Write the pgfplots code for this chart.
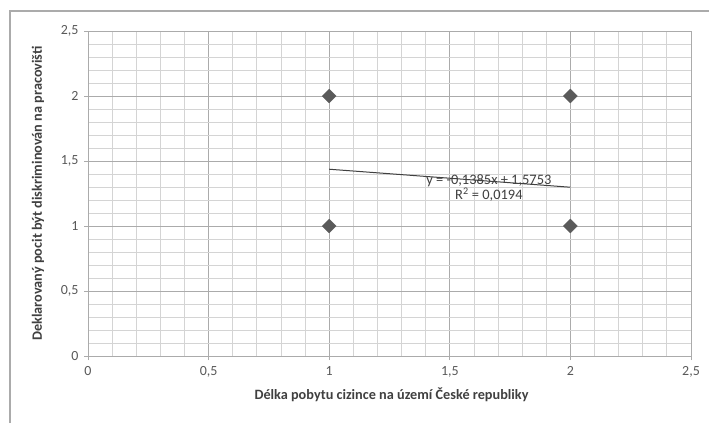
\documentclass[border=0pt]{standalone}
\usepackage{pgfplots}
\pgfplotsset{compat=1.18}
\usepackage{fontspec}
\setmainfont{Carlito}
\definecolor{tick}{HTML}{595959}
\definecolor{lab}{HTML}{404040}
\definecolor{majgrid}{HTML}{ABABAB}
\definecolor{mingrid}{HTML}{D4D4D4}
\definecolor{mk}{HTML}{5A5A5A}
\begin{document}
\begin{tikzpicture}[x=1bp,y=1bp]
\useasboundingbox (0,0) rectangle (709,-423);
\fill[white] (0,0) rectangle (709,-423);
\draw[color=majgrid, line width=1.5bp] (10,-423) -- (10,-11) -- (709,-11);
\begin{axis}[
  scale only axis, width=603bp, height=325bp,
  at={(88bp,-356bp)}, anchor=south west,
  xmin=0, xmax=2.5, ymin=0, ymax=2.5,
  xtick={0,0.5,1,1.5,2,2.5}, ytick={0,0.5,1,1.5,2,2.5},
  minor x tick num=4, minor y tick num=4,
  grid=both,
  major grid style={color=majgrid, line width=0.8bp},
  minor grid style={color=mingrid, line width=0.8bp},
  axis line style={color=majgrid, line width=0.9bp},
  axis x line*=bottom, axis y line*=left,
  separate axis lines,
  x axis line style={-}, y axis line style={-},
  tick align=outside,
  major tick length=4bp, minor tick length=0bp,
  tick style={color=majgrid, line width=0.9bp},
  /pgf/number format/assume math mode=true,
  /pgf/number format/use comma,
  ticklabel style={font=\fontsize{14}{16}\selectfont, text=tick},
  yticklabel style={xshift=-2bp},
  xticklabel style={yshift=-3bp},
  xlabel={Délka pobytu cizince na území České republiky},
  ylabel={Deklarovaný pocit být diskriminován na pracovišti},
  label style={font=\bfseries\fontsize{14.3}{16}\selectfont, text=lab},
  xlabel style={at={(axis description cs:0.5,0)}, anchor=center, yshift=-39bp, xshift=2bp},
  ylabel style={at={(axis description cs:-0.083,0.5)}, anchor=center},
  clip=false,
]
\addplot[only marks, mark=square*, mark size=4.9bp,
  mark options={rotate=45, fill=mk, draw=mk}]
  coordinates {(1,1) (1,2) (2,1) (2,2)};
\addplot[color=lab, line width=1bp, no marks]
  coordinates {(1,1.4368) (2,1.2983)};
\node[font=\fontsize{14.5}{15}\selectfont, text=lab, align=center, inner sep=0pt]
  at (axis cs:1.662,1.29) {y = -0,1385x + 1,5753\\R\textsuperscript{2} = 0,0194};
\end{axis}
\end{tikzpicture}
\end{document}
